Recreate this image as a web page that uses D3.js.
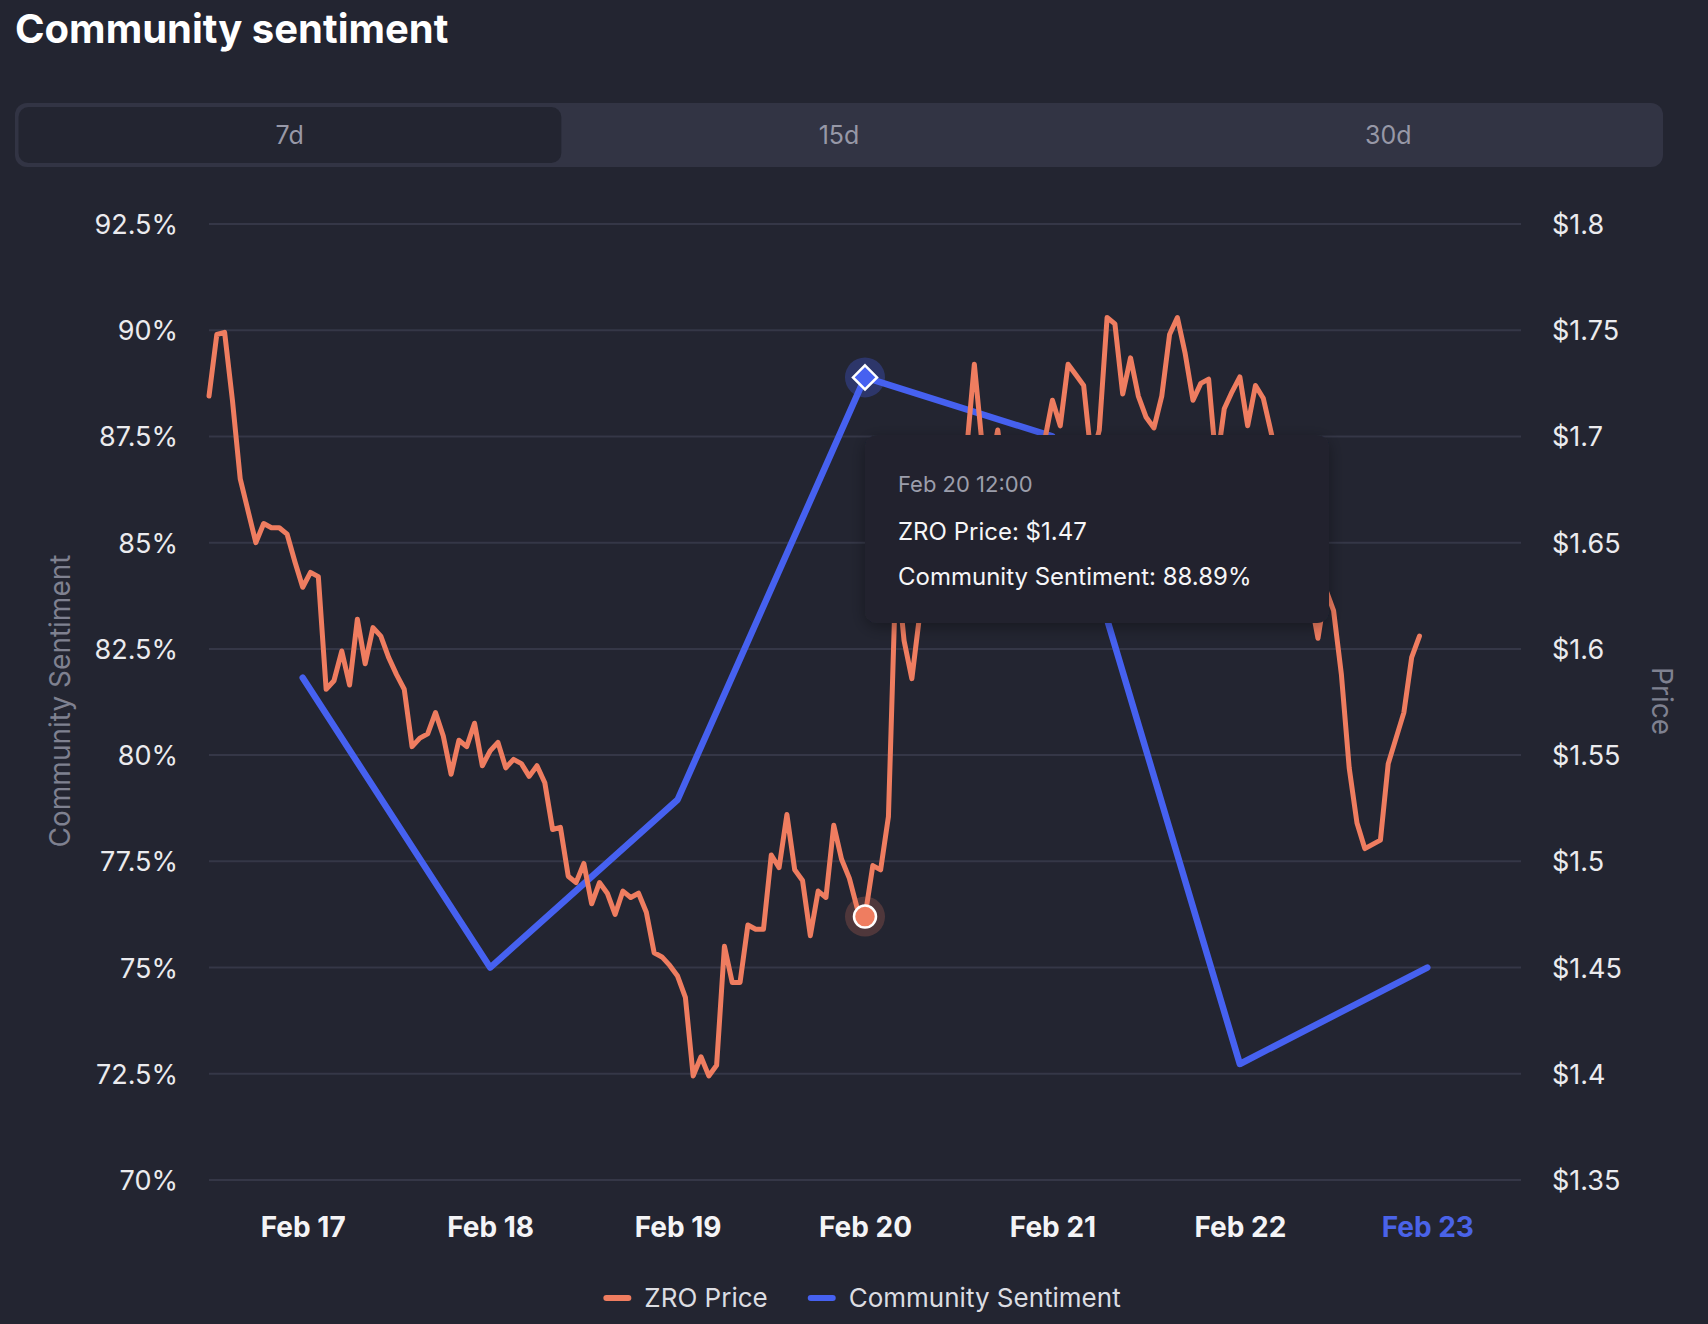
<!DOCTYPE html>
<html>
<head>
<meta charset="utf-8">
<script src="https://cdn.jsdelivr.net/npm/d3@7"></script>
<style>
  body { margin: 0; background: #232531; }
  svg { display: block; font-family: Inter, "Noto Sans", sans-serif; }
</style>
</head>
<body>
<svg id="chart" width="1708" height="1324"></svg>
<script>
// range selector
var tabLabels = ["7d", "15d", "30d"];

// community sentiment, one value a day (12:00)
var sentimentDates = ["2026-02-17T12:00", "2026-02-18T12:00", "2026-02-19T12:00", "2026-02-20T12:00",
                      "2026-02-21T12:00", "2026-02-22T12:00", "2026-02-23T12:00"];
var sentimentValues = [81.82, 75, 78.95, 88.89, 87.5, 72.73, 75];

// ZRO price, hourly from Feb 17 00:00
var priceStart = "2026-02-17T00:00";
var priceValues = [
  1.719, 1.748, 1.749, 1.717, 1.680, 1.665, 1.650, 1.659, 1.657, 1.657, 1.654, 1.641,
  1.629, 1.636, 1.634, 1.581, 1.585, 1.599, 1.583, 1.614, 1.593, 1.610, 1.606, 1.596,
  1.588, 1.581, 1.554, 1.558, 1.560, 1.570, 1.559, 1.541, 1.557, 1.554, 1.565, 1.545,
  1.552, 1.556, 1.544, 1.548, 1.546, 1.540, 1.545, 1.537, 1.515, 1.516, 1.493, 1.490,
  1.499, 1.480, 1.490, 1.485, 1.475, 1.486, 1.483, 1.485, 1.476, 1.457, 1.455, 1.451,
  1.446, 1.436, 1.399, 1.408, 1.399, 1.404, 1.460, 1.443, 1.443, 1.470, 1.468, 1.468,
  1.503, 1.497, 1.522, 1.496, 1.491, 1.465, 1.486, 1.483, 1.517, 1.501, 1.492, 1.478,
  1.474, 1.498, 1.496, 1.521, 1.642, 1.604, 1.586, 1.616, 1.646, 1.661, 1.647, 1.668,
  1.680, 1.693, 1.734, 1.696, 1.684, 1.703, 1.675, 1.685, 1.668, 1.678, 1.690, 1.698,
  1.717, 1.705, 1.734, 1.729, 1.724, 1.689, 1.703, 1.756, 1.753, 1.720, 1.737, 1.719,
  1.709, 1.704, 1.719, 1.748, 1.756, 1.739, 1.717, 1.725, 1.727, 1.686, 1.713, 1.721,
  1.728, 1.705, 1.724, 1.718, 1.702, 1.684, 1.670, 1.680, 1.651, 1.625, 1.605, 1.628,
  1.618, 1.588, 1.544, 1.518, 1.506, 1.508, 1.510, 1.546, 1.558, 1.570, 1.596, 1.606
];

var dayTicks = ["2026-02-17T12:00", "2026-02-18T12:00", "2026-02-19T12:00", "2026-02-20T12:00",
                "2026-02-21T12:00", "2026-02-22T12:00", "2026-02-23T12:00"];
var sentimentTicks = [70, 72.5, 75, 77.5, 80, 82.5, 85, 87.5, 90, 92.5];
var priceTicks = [1.35, 1.4, 1.45, 1.5, 1.55, 1.6, 1.65, 1.7, 1.75, 1.8];

// hovered point
var hoverIndex = 3;
var hoverPriceHour = 84;

var parse = d3.timeParse("%Y-%m-%dT%H:%M");

var svg = d3.select("#chart");
var bg = "#232531";

var margin = { left: 209, right: 1521, top: 224, bottom: 1180 };

var x = d3.scaleTime()
  .domain([parse("2026-02-17T00:00"), parse("2026-02-24T00:00")])
  .range([margin.left, margin.right]);
var yL = d3.scaleLinear().domain([70, 92.5]).range([margin.bottom, margin.top]);
var yR = d3.scaleLinear().domain([1.35, 1.8]).range([margin.bottom, margin.top]);

var start = parse(priceStart);
var priceData = priceValues.map(function(v, i) {
  return { date: d3.timeHour.offset(start, i), value: v };
});
var sentimentData = sentimentValues.map(function(v, i) {
  return { date: parse(sentimentDates[i]), value: v };
});

// title
svg.append("text")
  .attr("x", 15).attr("y", 43)
  .attr("fill", "#ffffff")
  .attr("font-size", 40).attr("font-weight", 700)
  .text("Community sentiment");

// tabs
var tabX = d3.scaleBand().domain(tabLabels).range([15, 1663]);
svg.append("rect")
  .attr("x", 15).attr("y", 103).attr("width", 1648).attr("height", 64)
  .attr("rx", 12).attr("fill", "#323444");
svg.append("rect")
  .attr("x", tabX("7d") + 3.5).attr("y", 107)
  .attr("width", tabX.bandwidth() - 6.5).attr("height", 56)
  .attr("rx", 10).attr("fill", bg);
svg.selectAll(".tab")
  .data(tabLabels)
  .enter().append("text")
  .attr("class", "tab")
  .attr("x", function(d) { return tabX(d) + tabX.bandwidth() / 2; })
  .attr("y", 135)
  .attr("text-anchor", "middle")
  .attr("dominant-baseline", "central")
  .attr("fill", "#9798a7")
  .attr("font-size", 25)
  .text(function(d) { return d; });

// grid
svg.append("g").selectAll("line")
  .data(sentimentTicks)
  .enter().append("line")
  .attr("x1", margin.left).attr("x2", margin.right)
  .attr("y1", function(d) { return yL(d); })
  .attr("y2", function(d) { return yL(d); })
  .attr("stroke", "#353747").attr("stroke-width", 2);

// axes
var leftAxis = svg.append("g")
  .attr("transform", "translate(" + margin.left + ",0)")
  .call(d3.axisLeft(yL).tickValues(sentimentTicks).tickSize(0).tickPadding(31)
    .tickFormat(function(d) { return d + "%"; }));
var rightAxis = svg.append("g")
  .attr("transform", "translate(" + margin.right + ",0)")
  .call(d3.axisRight(yR).tickValues(priceTicks).tickSize(0).tickPadding(31)
    .tickFormat(function(d) { return "$" + d; }));
var bottomAxis = svg.append("g")
  .attr("transform", "translate(0," + margin.bottom + ")")
  .call(d3.axisBottom(x).tickValues(dayTicks.map(parse)).tickSize(0)
    .tickFormat(d3.timeFormat("%b %d")));

[leftAxis, rightAxis, bottomAxis].forEach(function(g) {
  g.select(".domain").remove();
  g.selectAll("text")
    .attr("font-family", "Inter, 'Noto Sans', sans-serif")
    .attr("fill", "#ebebee")
    .attr("font-size", 27);
});
leftAxis.selectAll("text").attr("dy", "0.35em");
rightAxis.selectAll("text").attr("dy", "0.35em");
bottomAxis.selectAll("text")
  .attr("y", 57).attr("dy", 0)
  .attr("font-size", 28)
  .attr("font-weight", 700)
  .attr("fill", function(d, i) { return i === dayTicks.length - 1 ? "#4a63e8" : "#f4f4f6"; });

// axis titles
svg.append("text")
  .attr("transform", "translate(60,701) rotate(-90)")
  .attr("text-anchor", "middle").attr("dominant-baseline", "central")
  .attr("fill", "#7f8190").attr("font-size", 28)
  .text("Community Sentiment");
svg.append("text")
  .attr("transform", "translate(1662,701) rotate(90)")
  .attr("text-anchor", "middle").attr("dominant-baseline", "central")
  .attr("fill", "#7f8190").attr("font-size", 28)
  .text("Price");

// lines
var orange = "#ef7d60";
var blue = "#4661f0";

svg.append("path")
  .datum(sentimentData)
  .attr("fill", "none")
  .attr("stroke", blue).attr("stroke-width", 6.5)
  .attr("stroke-linejoin", "round").attr("stroke-linecap", "round")
  .attr("d", d3.line().x(function(d) { return x(d.date); }).y(function(d) { return yL(d.value); }));

svg.append("path")
  .datum(priceData)
  .attr("fill", "none")
  .attr("stroke", orange).attr("stroke-width", 5)
  .attr("stroke-linejoin", "round").attr("stroke-linecap", "round")
  .attr("d", d3.line().x(function(d) { return x(d.date); }).y(function(d) { return yR(d.value); }));

// hover markers
var hs = sentimentData[hoverIndex];
var hp = priceData[hoverPriceHour];
svg.append("circle")
  .attr("cx", x(hs.date)).attr("cy", yL(hs.value)).attr("r", 20)
  .attr("fill", blue).attr("fill-opacity", 0.3);
svg.append("path")
  .attr("transform", "translate(" + x(hs.date) + "," + yL(hs.value) + ")")
  .attr("d", "M0,-12L12,0L0,12L-12,0Z")
  .attr("fill", blue).attr("stroke", "#ffffff").attr("stroke-width", 2.5);
svg.append("circle")
  .attr("cx", x(hp.date)).attr("cy", yR(hp.value)).attr("r", 20)
  .attr("fill", orange).attr("fill-opacity", 0.22);
svg.append("circle")
  .attr("cx", x(hp.date)).attr("cy", yR(hp.value)).attr("r", 11)
  .attr("fill", orange).attr("stroke", "#ffffff").attr("stroke-width", 2.5);

// tooltip
var defs = svg.append("defs");
var f = defs.append("filter").attr("id", "shadow")
  .attr("x", "-20%").attr("y", "-20%").attr("width", "140%").attr("height", "140%");
f.append("feDropShadow").attr("dx", 0).attr("dy", 4).attr("stdDeviation", 8)
  .attr("flood-color", "#000").attr("flood-opacity", 0.35);

var tip = svg.append("g").attr("transform", "translate(865,435)");
tip.append("rect")
  .attr("width", 464).attr("height", 188).attr("rx", 12)
  .attr("fill", "#22242f").attr("filter", "url(#shadow)");
tip.append("text")
  .attr("x", 33).attr("y", 57)
  .attr("fill", "#9c9eab").attr("font-size", 22)
  .text(d3.timeFormat("%b %d %H:%M")(hs.date));
tip.append("text")
  .attr("x", 33).attr("y", 105)
  .attr("fill", "#f6f6f8").attr("font-size", 24)
  .text("ZRO Price: $" + hp.value.toFixed(2));
tip.append("text")
  .attr("x", 33).attr("y", 150)
  .attr("fill", "#f6f6f8").attr("font-size", 24)
  .text("Community Sentiment: " + hs.value.toFixed(2) + "%");

// legend
var legendItems = [{ name: "ZRO Price", color: orange }, { name: "Community Sentiment", color: blue }];
var legend = svg.append("g");
var items = legend.selectAll("g").data(legendItems).enter().append("g");
items.append("line")
  .attr("x1", 3).attr("x2", 25).attr("y1", 0).attr("y2", 0)
  .attr("stroke", function(d) { return d.color; })
  .attr("stroke-width", 6).attr("stroke-linecap", "round");
items.append("text")
  .attr("x", 41).attr("y", 9)
  .attr("fill", "#dcdde2").attr("font-size", 26)
  .text(function(d) { return d.name; });
var offset = 0;
var widths = [];
items.each(function() {
  var w = 41 + d3.select(this).select("text").node().getComputedTextLength();
  widths.push(w);
});
var gap = 40;
var total = d3.sum(widths) + gap * (widths.length - 1);
var lx = 862 - total / 2;
items.attr("transform", function(d, i) {
  var t = "translate(" + (lx + offset) + ",1298)";
  offset += widths[i] + gap;
  return t;
});
</script>
</body>
</html>
